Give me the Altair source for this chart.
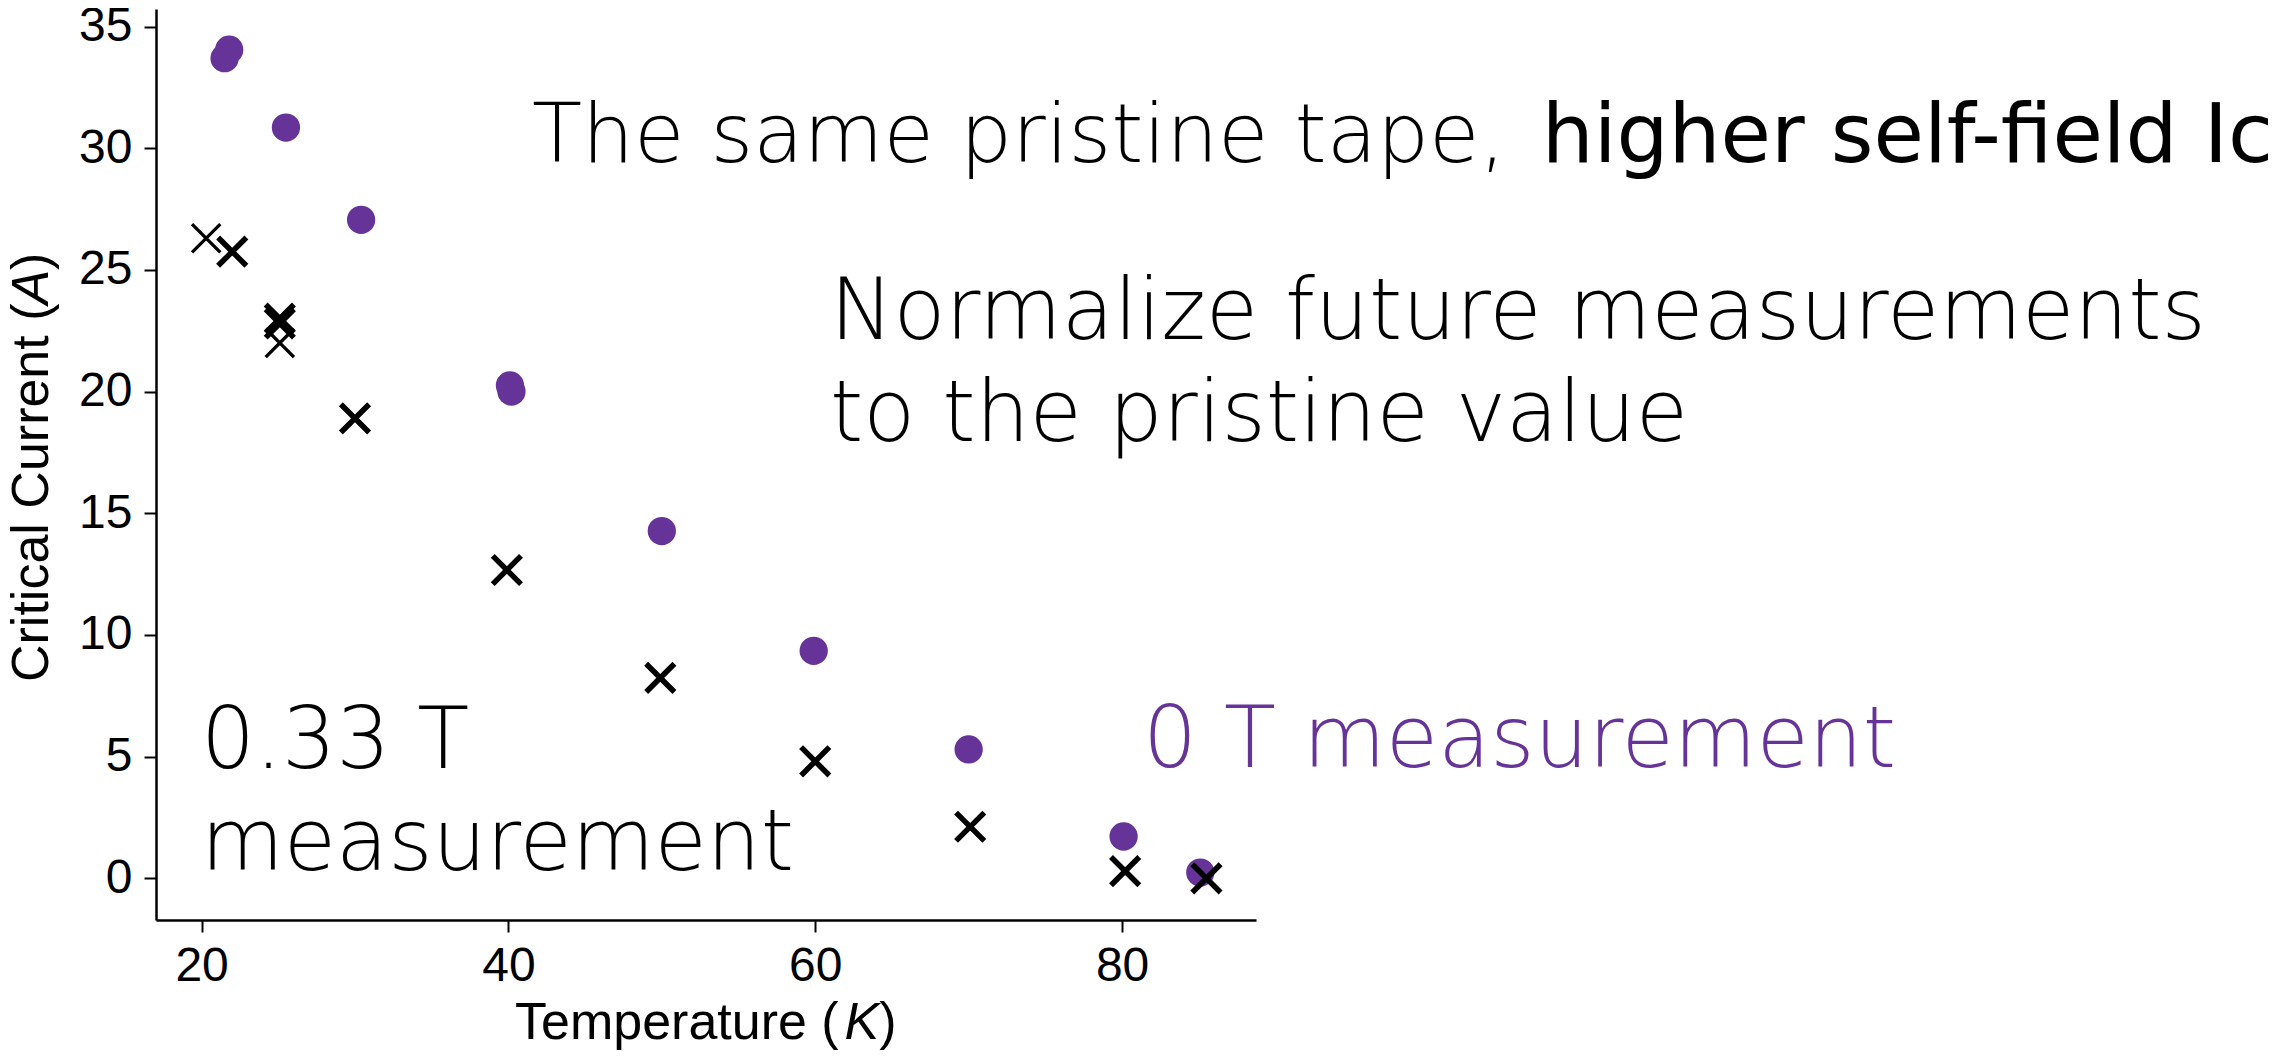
import altair as alt
import pandas as pd

# ---- data ----
# 0 T measurement (purple circles)
t_zero = [21.5, 21.8, 25.5, 30.4, 40.1, 40.2, 50.0, 59.9, 70.0, 80.1, 85.1]
ic_zero = [33.7, 34.05, 30.85, 27.06, 20.25, 20.0, 14.27, 9.35, 5.3, 1.72, 0.24]

# 0.33 T measurement (heavy crosses)
t_field = [22.0, 25.1, 25.1, 30.0, 39.9, 49.9, 60.0, 70.1, 80.2, 85.5]
ic_field = [25.75, 23.0, 22.8, 18.9, 12.67, 8.24, 4.81, 2.12, 0.3, 0.0]

# 0.33 T measurement (light crosses)
t_field2 = [20.3, 25.1]
ic_field2 = [26.3, 22.0]

x_ticks = [20, 40, 60, 80]
y_ticks = [0, 5, 10, 15, 20, 25, 30, 35]
x_domain = [17.03, 88.73]
y_domain = [-1.71, 35.72]

PURPLE = "#663399"
ANN_FONT = "DejaVu Sans"
AXIS_FONT = "Liberation Sans"

df_zero = pd.DataFrame({"T": t_zero, "Ic": ic_zero})
df_field = pd.DataFrame({"T": t_field, "Ic": ic_field})
df_field2 = pd.DataFrame({"T": t_field2, "Ic": ic_field2})
one = pd.DataFrame({"k": [0]})

x_enc = alt.X("T:Q", scale=alt.Scale(domain=x_domain, nice=False, zero=False),
              axis=alt.Axis(values=x_ticks, title="", format="d"))
y_enc = alt.Y("Ic:Q", scale=alt.Scale(domain=y_domain, nice=False, zero=False),
              axis=alt.Axis(values=y_ticks, title="", format="d"))

X_PATH = "M-1,-1L1,1M-1,1L1,-1"

circles = alt.Chart(df_zero).mark_point(
    shape="circle", filled=True, size=800, color=PURPLE, opacity=1
).encode(x=x_enc, y=y_enc)

crosses = alt.Chart(df_field).mark_point(
    shape=X_PATH, filled=False, size=800, color="black", strokeWidth=5.5, opacity=1
).encode(x=x_enc, y=y_enc)

crosses2 = alt.Chart(df_field2).mark_point(
    shape=X_PATH, filled=False, size=800, color="black", strokeWidth=3.3, opacity=1
).encode(x=x_enc, y=y_enc)


def label(text, x, y, align="left", weight=200, color="black", size=85,
          font=ANN_FONT, style="normal", angle=0):
    return alt.Chart(one).mark_text(
        text=text, align=align, baseline="alphabetic", font=font,
        fontSize=size, fontWeight=weight, color=color, fontStyle=style,
        angle=angle
    ).encode(x=alt.value(x), y=alt.value(y))


texts = [
    label("The same pristine tape,", 376, 153, size=82),
    label("higher self-field Ic", 2117, 153, align="right", weight=400, size=82),
    label("Normalize future measurements", 674, 330),
    label("to the pristine value", 674, 432),
    label("0.33 T", 45, 759),
    label("measurement", 45, 861),
    label("0 T measurement", 987, 758, color=PURPLE),
]

# axis titles with italic unit symbols (as in the mathtext original)
axis_titles = [
    label("Temperature (", 359, 1030, weight=400, size=52, font=AXIS_FONT),
    label("K", 688.5, 1030, weight=400, size=52, font=AXIS_FONT, style="italic"),
    label(")", 723.2, 1030, weight=400, size=52, font=AXIS_FONT),
    label("Critical Current (", -108, 673, weight=400, size=52, font=AXIS_FONT, angle=270),
    label("A", -108, 295.6, weight=400, size=52, font=AXIS_FONT, style="italic", angle=270),
    label(")", -108, 260.9, weight=400, size=52, font=AXIS_FONT, angle=270),
]

chart = alt.layer(circles, crosses2, crosses, *texts, *axis_titles).properties(
    width=1100, height=911,
    autosize=alt.AutoSizeParams(type="none"),
    padding={"left": 148, "top": 1, "right": 1018, "bottom": 132},
).configure_view(stroke=None).configure_axis(
    grid=False,
    domainColor="black", domainWidth=2.5,
    tickColor="black", tickWidth=2, tickSize=12,
    labelFont=AXIS_FONT, labelFontSize=48, labelColor="black",
    labelPadding=10,
).configure_axisY(labelPadding=12)

chart.save("out.html", embed_options={"renderer": "svg", "actions": False})
